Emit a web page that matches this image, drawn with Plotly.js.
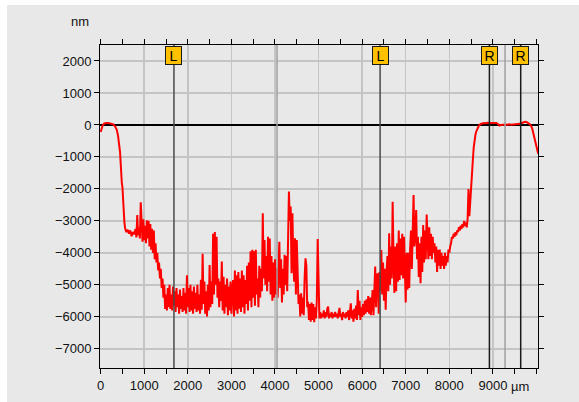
<!DOCTYPE html>
<html>
<head>
<meta charset="utf-8">
<script src="https://cdn.plot.ly/plotly-3.0.1.min.js"></script>
<style>
  html, body { margin: 0; padding: 0; background: #ffffff; width: 579px; height: 402px; overflow: hidden; }
  #chart { position: absolute; left: 7px; top: 5px; width: 572px; height: 397px; }
</style>
</head>
<body>
<div id="chart"></div>
<script>
// Profile position (µm)
const profileUm = [
  0,20,50,80,120,180,240,290,330,370,
  400,425,445,460,470,485,500,515,530,545,
  560,
  590,620,650,680,710,740,770,800,820,840,
  860,880,900,920,940,960,980,1000,1020,1040,
  1060,1080,1100,1120,1140,1160,1180,1200,1220,1240,
  1260,1280,1300,1320,1340,1360,1380,1400,1420,1440,
  1460,1480,1500,1520,
  1540,1560,1580,1600,1620,1640,1660,1680,1700,1720,
  1740,1760,1780,1800,1820,1840,1860,1880,1900,1920,
  1940,1960,1980,2000,2020,2040,2060,2080,2100,2120,
  2140,2160,2180,2200,2220,2240,2260,2280,
  2300,2320,2340,2360,2380,2400,2420,2440,2460,2480,
  2500,2520,2540,2560,2580,2600,2620,2640,2660,2680,
  2700,2720,2740,2760,2780,2800,2820,2840,2860,2880,
  2900,2920,2940,2960,2980,3000,3020,3040,3060,3080,
  3100,3120,3140,3160,3180,3200,3220,3240,3260,3280,
  3300,3320,3340,3360,3380,3400,3420,3440,3460,3480,
  3500,3520,3540,3560,3580,3600,3620,3640,3660,3680,
  3700,3720,3740,3760,3780,3800,3820,3840,3860,3880,
  3900,3920,3940,3960,3980,4000,4020,4040,4060,4080,
  4100,4120,4140,4160,4180,4200,4220,4240,4260,4280,
  4300,4320,4340,4360,4380,4400,4420,4440,4460,4480,
  4500,4520,4540,4560,4580,4600,4620,4640,4660,4680,
  4700,4720,4740,4760,4780,4800,4820,4840,4860,4880,
  4900,4920,4940,4960,4980,5000,5020,
  5040,5060,5080,5100,5120,5140,5160,5180,5200,5220,
  5240,5260,5280,5300,5320,5340,5360,5380,5400,5420,
  5440,5460,5480,5500,5520,5540,5560,5580,5600,5620,
  5640,5660,5680,5700,5720,5740,5760,5780,5800,5820,
  5840,5860,5880,5900,5920,5940,5960,5980,6000,6020,
  6040,6060,6080,6100,6120,6140,6160,6180,6200,6220,
  6240,6260,6280,6300,6320,6340,6360,6380,6400,6420,
  6440,6460,6480,6500,6520,6540,6560,6580,6600,6620,
  6640,6660,6680,6700,6720,6740,6760,6780,6800,6820,
  6840,6860,6880,6900,6920,6940,6960,6980,7000,7020,
  7040,7060,7080,7100,7120,7140,7160,7180,7200,7220,
  7240,7260,7280,7300,7320,7340,7360,7380,7400,7420,
  7440,7460,7480,7500,7520,7540,7560,7580,7600,7620,
  7640,7660,7680,7700,7720,7740,7760,7780,7800,7820,
  7840,7860,7880,7900,7920,7940,7960,7980,8000,8020,
  8040,8060,8080,8100,8120,8140,8160,8180,8200,8220,
  8240,8260,8280,8300,8320,8340,8360,8380,8400,8420,
  8440,8460,8480,8500,8520,8540,8560,8580,8600,
  8620,8650,8680,8720,8760,8800,8840,8880,8920,8960,
  9000,9040,9080,9120,9150,9180,9220,9260,9300,9340,
  9380,9420,9460,9500,9540,9580,9620,9660,9700,9740,
  9780,9820,9860,9900,9940,9970,10000,10040
];
// Profile height (nm)
const profileNm = [
  -220,-100,0,40,60,60,50,20,-40,-150,
  -350,-560,-850,-1200,-1600,-1800,-1950,-2500,-2800,-3050,
  -3220,
  -3350,-3280,-3400,-3300,-3480,-3350,-3420,-3250,-3520,-2820,
  -3450,-3200,-3550,-2420,-3300,-3650,-2950,-3600,-3150,-3700,
  -2980,-3550,-3000,-3800,-3100,-3900,-3250,-4000,-3300,-4200,
  -3700,-4300,-4000,-4550,-4300,-4800,-4500,-5100,-4800,-5400,
  -5000,-5750,-5300,-5800,
  -5100,-5700,-5000,-5750,-5300,-5800,-5050,-5650,-5200,-5850,
  -5100,-5700,-5300,-5900,-5150,-5750,-5350,-5850,-5100,-5800,
  -5250,-5900,-4700,-5700,-5100,-5850,-5000,-5800,-5200,-5900,
  -5050,-5750,-5250,-5850,-5000,-5800,-5300,-5900,
  -4840,-5780,-4030,-5600,-4900,-5900,-5200,-5990,-5000,-5800,
  -4380,-5700,-4900,-5600,-3400,-5300,-3350,-5000,-3500,-5400,
  -4800,-5700,-4900,-5500,-4270,-5800,-4750,-5900,-5000,-5700,
  -4800,-5950,-5050,-5800,-4900,-5900,-5100,-4850,-5990,-4550,
  -5800,-4700,-5900,-4600,-5750,-4800,-5850,-4550,-5700,-4700,
  -5900,-4850,-5600,-4400,-5800,-4300,-5500,-3950,-5700,-3900,
  -5400,-3950,-5650,-3900,-5300,-4800,-5700,-4400,-5400,-4500,
  -5200,-2760,-4800,-3600,-5000,-4100,-5200,-3500,-4900,-3550,
  -5300,-4100,-5500,-4300,-5400,-4200,-5300,-4480,-5400,-4100,
  -3650,-5100,-4200,-5550,-4500,-5300,-4060,-5000,-4100,-5200,
  -3800,-2080,-3000,-2550,-4640,-2760,-4200,-4900,-3540,-5300,
  -3600,-5200,-5600,-5300,-5990,-5260,-5900,-5400,-5950,-4800,
  -4170,-4400,-5700,-5530,-6100,-5600,-6150,-5550,-6100,-5600,
  -6170,-5700,-6050,-5500,-3570,-4800,-6050,
  -5850,-6050,-5900,-6000,-5800,-6050,-5850,-6000,-5750,-5680,
  -6050,-5900,-6000,-5850,-6050,-5900,-6000,-5850,-6000,-5900,
  -6050,-5850,-5720,-6000,-5900,-6100,-5850,-6000,-5900,-6050,
  -5850,-6000,-5800,-6100,-5700,-5575,-6050,-5800,-6150,-5750,
  -6050,-5650,-6100,-5160,-5950,-5500,-6100,-5700,-6000,-5600,
  -5950,-5500,-5900,-5450,-5850,-5350,-5900,-5400,-5950,-5300,
  -5160,-5950,-5000,-4430,-5700,-4700,-4640,-5900,-4600,-5200,
  -3907,-5300,-4300,-5500,-4500,-5780,-4600,-4100,-5200,-3386,
  -5000,-3800,-4800,-2400,-4200,-5250,-3800,-5200,-3700,-4900,
  -3300,-4850,-3550,-4700,-3400,-4800,-3500,-4600,-5550,-4000,
  -5150,-4000,-5100,-3900,-3300,-4500,-3600,-2190,-3800,-3400,
  -2660,-4200,-3500,-4750,-3700,-4950,-3500,-4600,-3130,-4300,
  -3300,-4200,-2800,-3800,-4200,-3200,-4100,-3400,-4200,-3500,
  -4000,-3700,-4300,-3800,-4600,-3900,-4400,-3900,-4500,-4000,
  -4400,-4100,-4500,-4000,-4400,-4100,-4300,-3900,-4000,-3800,
  -3700,-3500,-3550,-3400,-3500,-3350,-3450,-3300,-3350,-3200,
  -3300,-3150,-3250,-3100,-3200,-3000,-3150,-3050,-3200,-2950,
  -2000,-2850,-2300,-2100,-1400,-1100,-700,-450,-300,
  -200,-120,-20,30,50,60,55,70,60,65,
  55,70,60,20,-20,0,10,0,15,5,
  20,10,15,5,20,25,35,60,80,100,
  90,60,10,-100,-310,-500,-680,-900
];

const xTickVals = [0,1000,2000,3000,4000,5000,6000,7000,8000,9000];
const yTickVals = [2000,1000,0,-1000,-2000,-3000,-4000,-5000,-6000,-7000];
const cursorUm = [1682, 6412, 8920, 9638];
const cursorLabels = ['L', 'L', 'R', 'R'];
const cursorColors = ['#4a4a4a', '#4a4a4a', '#1a1a1a', '#1a1a1a'];
const xUnit = 'µm';
const yUnit = 'nm';

const FONT = "'Liberation Sans', Arial, sans-serif";

const shapes = [];
cursorUm.forEach((c, i) => {
  shapes.push({type: 'line', xref: 'x', yref: 'paper', x0: c, x1: c, y0: 0, y1: 1,
    line: {color: cursorColors[i], width: 1.5}, layer: 'above'});
});
// midpoint markers of each cursor pair
for (let i = 0; i < cursorUm.length; i += 2) {
  const m = (cursorUm[i] + cursorUm[i + 1]) / 2;
  shapes.push({type: 'line', xref: 'x', yref: 'paper', x0: m, x1: m, y0: 0, y1: 1,
    line: {color: '#a0a0a0', width: 1.5}, layer: 'above'});
}

const annotations = cursorUm.map((c, i) => ({
  x: c, xref: 'x', y: 1, yref: 'paper', yanchor: 'top', yshift: -1,
  text: cursorLabels[i], showarrow: false,
  bgcolor: '#ffc000', bordercolor: '#1a1a1a', borderwidth: 1, borderpad: 1,
  width: 13, height: 15,
  font: {family: FONT, size: 14, color: '#000'}
}));
annotations.push({text: yUnit, xref: 'paper', x: 0, xanchor: 'right', xshift: -9,
  yref: 'paper', y: 1, yanchor: 'middle', yshift: 24, showarrow: false,
  font: {family: FONT, size: 13, color: '#111'}});
annotations.push({text: xUnit, xref: 'x', x: 9000, xanchor: 'left', xshift: 16,
  yref: 'paper', y: 0, yanchor: 'middle', yshift: -18, showarrow: false,
  font: {family: FONT, size: 13, color: '#111'}});

const trace = {
  x: profileUm, y: profileNm, type: 'scatter', mode: 'lines',
  line: {color: '#ff0000', width: 2}, hoverinfo: 'skip'
};

const layout = {
  width: 572, height: 397,
  margin: {l: 93, r: 41, t: 40, b: 34, pad: 0},
  paper_bgcolor: '#e8e8e8', plot_bgcolor: '#e8e8e8',
  font: {family: FONT, size: 13, color: '#111'},
  showlegend: false,
  xaxis: {
    range: [-15, 10035], tickmode: 'array', tickvals: xTickVals,
    ticks: 'outside', ticklen: 5, tickwidth: 1, tickcolor: '#000',
    showline: true, linecolor: '#000', linewidth: 1, mirror: 'ticks',
    showgrid: true, gridcolor: '#c4c4c4', gridwidth: 1.5, zeroline: false,
    minor: {tickmode: 'linear', tick0: 0, dtick: 500, ticks: 'outside', ticklen: 5,
      tickcolor: '#000', tickwidth: 1, showgrid: false}
  },
  yaxis: {
    range: [-7600, 2500], tickmode: 'array', tickvals: yTickVals,
    ticks: 'outside', ticklen: 5, tickwidth: 1, tickcolor: '#000',
    showline: true, linecolor: '#000', linewidth: 1, mirror: 'ticks',
    showgrid: true, gridcolor: '#c4c4c4', gridwidth: 1.5,
    zeroline: true, zerolinecolor: '#000', zerolinewidth: 1.5
  },
  shapes: shapes,
  annotations: annotations
};

Plotly.newPlot('chart', [trace], layout, {displayModeBar: false, staticPlot: true});
</script>
</body>
</html>
